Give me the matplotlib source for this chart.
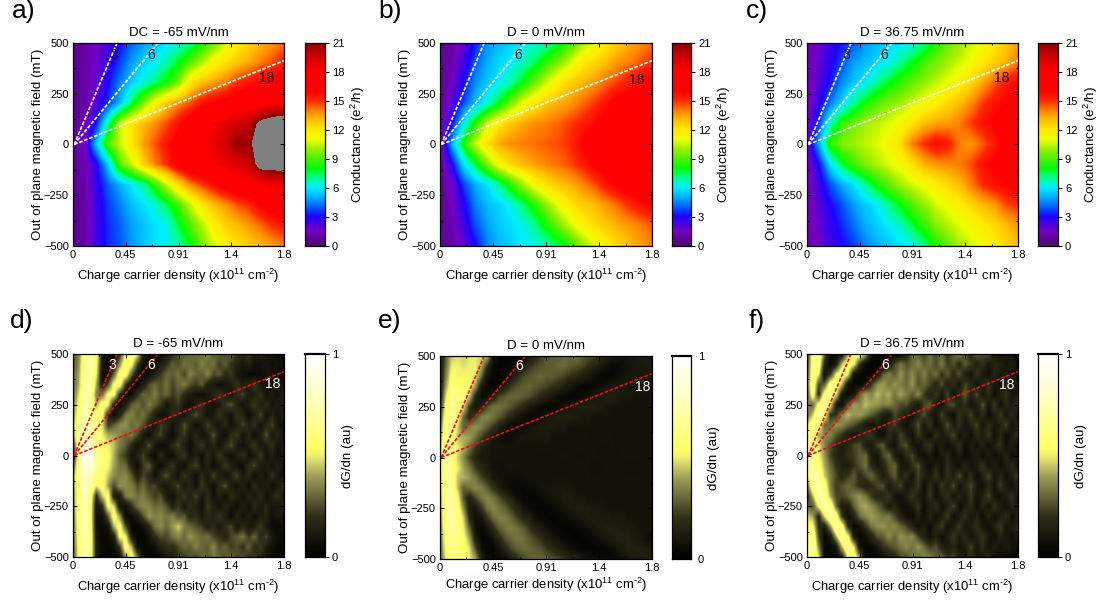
import numpy as np
import matplotlib
matplotlib.use("Agg")
import matplotlib.pyplot as plt
from matplotlib.colors import LinearSegmentedColormap

plt.rcParams["font.family"] = ["Liberation Sans", "DejaVu Sans"]
plt.rcParams["mathtext.fontset"] = "custom"
plt.rcParams["mathtext.rm"] = "Liberation Sans"
plt.rcParams["mathtext.default"] = "regular"

W, H = 1102, 603

density = [0.1 * i for i in range(19)]
field = [500, 400, 300, 200, 100, 0, -100, -200, -300, -400, -500]
fine_density = [0.05 * i for i in range(37)]
fine_field = [500 - 50 * i for i in range(21)]

# conductance maps, rows follow field, columns follow density
cond_a = [
    [.6, 1, 1.5, 2.2, 3, 4, 4.7, 5.3, 5.8, 6.2, 7, 8, 9.2, 10.5, 11.8, 12.4, 13, 13.6, 14.2],
    [.6, 1, 1.6, 2.6, 3.6, 4.8, 5.5, 6, 6.8, 7.8, 9, 10.2, 11.4, 12.2, 12.8, 13.3, 14, 14.6, 15.2],
    [.6, 1, 1.8, 3, 4.4, 5.5, 6.4, 7.2, 8.2, 9.5, 12, 13, 13.5, 14, 15, 15.5, 16, 16.5, 17],
    [.6, 1, 2, 3.6, 5.2, 7.5, 9.5, 11.5, 12.8, 13.8, 14.5, 15.5, 16, 16.5, 17, 17.2, 17.6, 18, 18],
    [.6, 1.2, 3.2, 7, 10.5, 12, 13, 13.8, 14.6, 15.6, 16.8, 18, 18.4, 18.8, 19.4, 19.8, 21.6, 22.4, 23],
    [.5, 1.6, 5.5, 9, 10.5, 12, 13.5, 14.5, 15.5, 16.5, 17.2, 17.8, 18.5, 19.5, 20.8, 20.5, 22.5, 23, 23],
    [.6, 1.2, 2.8, 5.5, 9, 10.5, 12.5, 14, 15, 16.5, 17.5, 18, 18.2, 18.6, 19, 19.6, 22, 22, 22.4],
    [.6, 1.1, 2.6, 4, 5, 6, 6.8, 8.5, 10.5, 12.3, 13.8, 14.8, 15.6, 16.6, 17.2, 17.6, 18, 18.4, 18.6],
    [.6, 1, 2.5, 3.6, 4.4, 5.2, 5.8, 6.4, 7.4, 8.8, 10.4, 12, 13, 13.6, 14.5, 15, 16, 16.6, 17],
    [.6, 1, 2.4, 3.4, 4, 4.8, 5.3, 5.8, 6.2, 7.6, 9, 10.2, 11.6, 12.6, 13, 13.6, 14.2, 15, 15.4],
    [.6, 1, 2.4, 3.4, 3.9, 4.7, 5.3, 5.8, 6.2, 6.7, 7.8, 9.4, 10.6, 11.6, 12.2, 12.6, 13, 13.5, 14],
]
cond_b = [
    [.6, 1, 1.8, 3.2, 4.6, 5.2, 5.6, 6, 6.3, 6.7, 7.5, 8.6, 9.8, 10.8, 11.8, 12.6, 13.2, 13.7, 14.2],
    [.6, 1.2, 2.4, 4, 5, 5.6, 6, 6.6, 7.4, 8.5, 9.5, 10.6, 11.8, 12.4, 13, 13.6, 14, 14.5, 15],
    [.6, 1.4, 3, 4.6, 5.4, 6, 6.8, 8, 9.3, 10.6, 11.8, 12.6, 13.1, 13.6, 14.2, 14.8, 15.4, 16, 16.5],
    [.6, 2, 3.8, 5.2, 6.4, 7.8, 9.4, 11, 12, 12.8, 13.2, 13.6, 14.2, 14.8, 15.5, 16.4, 16.8, 17, 17.4],
    [.8, 3, 6, 8.4, 10.6, 12, 12.8, 13.4, 13.8, 14, 14.3, 14.8, 15.2, 15.8, 16.6, 17, 17.4, 17.6, 17.8],
    [.8, 5, 8.2, 10.5, 12.2, 13.3, 13.8, 14, 14.2, 14.4, 14.6, 15, 16, 16.8, 17.2, 17.6, 17.8, 18, 18],
    [.8, 2.8, 5.8, 7.6, 9.6, 11.4, 12.4, 13, 13.5, 13.9, 14.2, 14.6, 15.2, 16, 16.6, 17, 17.4, 17.6, 17.6],
    [.6, 1.6, 3.6, 5, 5.8, 7, 8.5, 10, 11.3, 12.2, 12.8, 13.2, 13.8, 14.5, 15.4, 16.2, 16.8, 17, 17],
    [.6, 1.4, 2.8, 4.4, 5.2, 5.6, 6.2, 7.2, 8.4, 9.8, 11, 12, 12.6, 13, 13.6, 14.2, 15, 15.6, 16],
    [.6, 1.2, 2.4, 3.8, 4.8, 5.4, 5.7, 6.2, 7, 8.2, 9.4, 10.5, 11.6, 12.2, 12.8, 13.2, 13.6, 14, 14.5],
    [.6, 1, 1.8, 3, 4.4, 5.2, 5.6, 5.9, 6.2, 6.6, 7.4, 8.4, 9.6, 10.6, 11.6, 12.4, 13, 13.5, 14],
]
cond_c = [
    [1, 1.6, 2.4, 3.2, 3.8, 4.8, 5.2, 5.5, 5.8, 6.2, 7, 8.2, 9.2, 9.8, 10.5, 11.2, 11.9, 12.8, 13.5],
    [1, 1.8, 2.8, 3.8, 4.8, 5.2, 5.6, 6.2, 7, 7.8, 8.8, 9.4, 10, 10.6, 11.2, 12, 12.6, 13.2, 14],
    [1, 2, 3.2, 4.6, 5.4, 6, 7, 7.8, 8.6, 9.2, 9.8, 10.4, 11, 11.6, 12.4, 13.4, 14.4, 15.4, 16],
    [1, 2.6, 4.4, 5.6, 7, 8.2, 9, 9.6, 10, 10.6, 11.2, 11.8, 12.4, 13, 13.8, 14.8, 15.6, 16, 16.6],
    [1.2, 3.6, 6.6, 8.6, 9.4, 10, 10.4, 10.8, 11.4, 12.2, 13, 13.4, 13.6, 14, 14.8, 15.6, 16, 16.4, 16.6],
    [1.5, 5, 8.6, 9.6, 10, 10.4, 10.8, 11.4, 12.4, 14, 15, 15.8, 15.4, 14, 13.6, 14.4, 15.4, 16.4, 17],
    [1.2, 3, 5.8, 7.6, 8.8, 9.6, 10.2, 10.8, 11.4, 12.2, 13.2, 13.6, 13.8, 14, 14.6, 15.6, 16.2, 16.6, 16.6],
    [1, 2.4, 3.8, 5, 5.8, 7, 8.2, 9.2, 10, 10.6, 11.2, 11.8, 12.4, 13, 14, 15, 15.6, 16, 16.4],
    [1, 2, 3, 3.8, 4.8, 5.4, 6, 7, 8, 9, 9.8, 10.6, 11.2, 11.8, 12.4, 13, 13.6, 14.6, 15],
    [1, 1.8, 2.6, 3.4, 4.2, 5, 5.5, 6, 6.6, 7.6, 8.6, 9.6, 10.2, 10.8, 11.4, 11.8, 12.4, 13, 13.6],
    [1, 1.6, 2.4, 3, 3.6, 4.4, 5, 5.4, 5.8, 6.2, 7, 8.2, 9.2, 10, 10.6, 11.2, 11.8, 12.4, 13],
]

# dG/dn maps in percent of full scale, finer grid
deriv_d = [
    [25, 35,62,70,60, 12,4,4,20, 55,62,50,15, 4,3,5,10, 18,25,28,30, 32,30,35,28, 30,25,30,20, 18,22,12,15, 8,10,6,5],
    [25, 38,65,72,55, 10,4,8,38, 60,55,25,6, 3,4,12,20, 28,25,32,30, 28,35,30,32, 22,28,20,15, 10,14,8,6, 10,6,8,5],
    [28, 40,68,72,50, 8,5,30,58, 58,30,8,3, 6,15,22,30, 28,32,25,35, 30,28,35,25, 28,18,22,10, 6,4,3,5, 8,10,6,4],
    [28, 42,70,70,42, 10,25,55,58, 22,6,4,12, 25,30,26,32, 24,30,34,26, 22,28,16,12, 6,10,14,20, 12,16,22,10, 6,12,14,8],
    [30, 48,72,68,35, 32,55,55,18, 5,6,20,30, 28,34,26,30, 22,26,18,12, 8,5,10,16, 22,14,8,18, 24,10,14,20, 8,12,6,14],
    [32, 55,75,66,42, 58,52,14,5, 12,28,32,26, 34,28,22,10, 16,22,10,6, 14,20,12,8, 12,22,26,14, 8,14,22,12, 18,8,14,10],
    [35, 60,75,68,60, 55,18,6,16, 32,35,28,32, 24,14,6,10, 20,12,8,18, 26,16,6,12, 22,14,8,20, 16,6,14,24, 10,16,8,14],
    [38, 65,75,70,62, 48,22,28,36, 38,30,34,26, 16,10,22,18, 8,14,26,16, 6,12,24,14, 10,18,8,14, 24,14,20,8, 16,24,10,6],
    [35, 68,80,72,64, 50,42,40,36, 30,34,24,12, 6,18,24,10, 4,16,22,10, 18,8,14,26, 12,6,18,22, 10,16,6,14, 26,10,16,8],
    [20, 65,85,78,62, 55,50,44,34, 28,18,8,14, 26,12,4,8, 18,24,12,6, 14,22,10,16, 8,18,26,12, 6,14,22,10, 14,20,8,12],
    [8, 60,98,92,70, 58,55,42,28, 22,8,14,24, 10,4,18,8, 5,16,22,8, 14,6,18,10, 22,12,6,14, 20,8,12,22, 8,14,6,10],
    [22, 68,90,85,68, 58,52,40,32, 30,16,6,22, 28,12,5,14, 22,10,6,18, 24,10,16,6, 12,22,14,8, 6,18,24,10, 14,8,16,6],
    [38, 65,80,75,60, 54,46,36,34, 36,28,14,24, 18,6,20,26, 14,8,22,14, 6,18,10,24, 14,8,16,24, 10,18,6,14, 8,20,10,6],
    [35, 62,78,72,50, 58,40,24,38, 36,34,26,30, 22,24,14,8, 18,24,10,16, 8,22,14,6, 18,26,12,8, 16,6,18,10, 14,6,12,18],
    [35, 60,76,62,18, 45,58,12,12, 34,36,32,34, 28,22,26,12, 8,16,22,14, 24,10,18,8, 14,6,20,14, 8,16,10,18, 6,14,20,8],
    [32, 62,75,58,10, 18,55,48,8, 6,20,32,36, 35,30,32,26, 14,22,10,18, 14,6,22,14, 8,16,10,6, 14,8,18,12, 16,8,10,14],
    [30, 62,76,58,8, 6,28,60,38, 5,4,12,26, 38,34,36,32, 35,26,28,16, 20,10,18,14, 22,12,6,16, 8,14,6,12, 16,6,12,8],
    [28, 60,76,60,8, 4,8,42,58, 25,4,3,6, 18,32,36,30, 38,46,34,30, 26,22,14,18, 10,20,24,10, 18,10,14,22, 10,6,4,8],
    [28, 58,75,62,10, 4,5,12,54, 52,12,3,3, 8,18,26,24, 32,36,30,38, 34,30,32,24, 20,14,24,28, 32,22,30,18, 24,10,6,4],
    [25, 55,72,62,12, 4,4,6,22, 60,42,6,3, 4,6,14,20, 18,24,30,28, 34,30,28,36, 26,30,22,26, 20,28,18,22, 12,8,5,4],
    [25, 55,72,62,12, 4,3,4,8, 38,58,32,6, 3,3,5,10, 14,20,22,26, 24,30,28,32, 30,26,30,24, 26,20,22,16, 8,5,4,3],
]
deriv_e = [
    [8, 28,45,48,46, 48,50,46,42, 10,3,2,2, 2,3,8,16, 22,26,28,28, 30,30,32,28, 26,24,20,16, 12,10,8,10, 10,12,12,10],
    [8, 30,50,50,48, 50,50,42,20, 5,2,2,3, 6,14,20,24, 26,28,28,30, 30,28,26,24, 20,16,12,8, 5,4,6,8, 10,10,12,10],
    [8, 34,56,52,52, 52,50,30,8, 3,2,4,10, 18,24,26,28, 30,28,28,26, 24,20,18,14, 10,6,4,3, 4,6,8,10, 10,10,10,10],
    [8, 40,60,58,56, 54,38,12,4, 3,6,14,22, 26,28,30,28, 26,24,20,18, 14,10,6,4, 3,4,6,8, 10,12,12,10, 10,10,8,8],
    [10, 48,64,62,58, 44,16,5,5, 14,24,28,30, 30,28,26,22, 18,14,10,6, 4,3,3,5, 8,10,12,14, 14,12,10,10, 8,8,8,8],
    [14, 56,66,62,48, 22,8,14,26, 32,32,30,26, 22,18,12,8, 5,3,3,5, 8,10,12,14, 14,14,12,10, 8,8,8,8, 8,8,8,8],
    [20, 62,66,56,30, 16,24,34,36, 32,28,22,16, 10,6,4,4, 6,10,12,14, 14,14,12,10, 10,8,8,8, 8,8,8,8, 8,8,8,8],
    [28, 66,64,46,28, 34,38,34,28, 22,14,8,5, 4,5,8,10, 12,12,12,10, 10,8,8,8, 8,8,8,8, 8,8,8,8, 8,8,8,8],
    [36, 68,60,44,42, 40,32,24,16, 10,6,5,6, 8,10,10,10, 10,10,8,8, 8,8,8,8, 8,7,8,8, 8,7,8,8, 8,8,8,8],
    [40, 72,60,50,42, 32,22,14,10, 8,8,8,8, 8,8,8,8, 8,8,8,7, 7,8,8,8, 8,8,7,7, 8,8,8,7, 8,8,8,8],
    [42, 72,62,46,36, 24,16,12,10, 8,8,8,8, 8,8,8,8, 7,7,8,8, 8,8,7,7, 8,8,8,8, 7,7,8,8, 8,8,8,8],
    [42, 74,62,50,40, 32,22,16,12, 8,7,7,8, 8,8,8,8, 8,8,8,7, 7,8,8,8, 8,7,7,8, 8,8,8,7, 7,8,8,8],
    [40, 72,62,44,42, 38,32,24,18, 12,8,6,6, 6,7,8,8, 8,8,8,8, 8,8,8,7, 8,8,8,8, 8,8,8,8, 8,8,8,8],
    [40, 70,64,44,28, 32,36,34,28, 20,14,8,5, 4,4,5,6, 8,9,10,10, 10,9,8,8, 8,8,8,8, 8,8,8,8, 8,8,8,8],
    [38, 70,68,54,26, 14,24,32,36, 32,26,20,14, 8,4,3,3, 5,7,9,10, 12,12,10,10, 8,8,8,8, 8,8,8,8, 8,8,8,8],
    [36, 68,70,60,36, 12,10,20,32, 36,32,28,22, 16,10,6,4, 3,3,4,6, 9,11,12,12, 12,10,10,8, 8,8,8,8, 8,8,8,8],
    [34, 66,70,62,46, 18,6,8,20, 30,34,34,30, 24,18,14,8, 5,3,2,3, 4,6,8,10, 12,12,12,12, 10,10,10,8, 8,8,8,8],
    [32, 62,68,62,50, 30,8,4,8, 18,28,32,34, 32,28,22,16, 12,8,5,3, 2,2,3,5, 7,10,12,14, 14,14,12,12, 10,8,8,8],
    [30, 58,66,60,54, 40,14,4,4, 8,16,26,30, 32,32,28,24, 20,14,10,7, 5,3,2,2, 3,5,8,10, 12,14,14,14, 12,10,6,5],
    [28, 54,64,60,56, 48,26,7,3, 4,8,16,24, 28,30,30,28, 26,22,18,14, 10,7,5,3, 2,2,2,4, 6,8,12,14, 14,14,12,8],
    [26, 50,60,58,56, 50,40,16,4, 3,3,6,12, 18,24,28,30, 30,28,26,24, 20,16,14,10, 8,6,5,4, 4,5,7,10, 12,12,14,12],
]
deriv_f = [
    [15, 62,70,30,4, 4,8,40,58, 58,42,8,3, 2,2,3,6, 15,30,28,22, 32,26,30,20, 28,34,24,18, 30,24,28,12, 6,10,8,5],
    [18, 62,64,16,4, 12,45,60,52, 20,4,2,2, 3,10,24,32, 26,30,36,28, 32,24,34,22, 26,18,28,22, 14,20,10,16, 14,8,12,6],
    [22, 64,50,6,20, 50,62,50,10, 3,2,3,10, 28,34,28,38, 30,36,28,34, 26,32,20,28, 18,26,14,8, 22,12,6,16, 10,14,6,8],
    [28, 68,25,28,60, 64,42,8,3, 3,8,22,36, 40,32,38,34, 30,38,26,30, 24,16,26,14, 20,10,24,18, 8,14,22,10, 6,16,10,14],
    [24, 60,18,58,68, 48,10,4,12, 30,40,36,44, 38,42,32,40, 34,28,36,22, 14,22,10,24, 6,18,28,14, 26,10,18,6, 14,20,8,12],
    [35, 30,55,72,50, 12,6,28,40, 36,44,40,38, 34,36,30,24, 26,18,10,24, 28,12,8,22, 26,14,20,8, 14,26,10,22, 8,16,12,20],
    [30, 45,72,60,20, 20,36,44,38, 40,34,28,22, 14,10,24,20, 12,6,18,26, 14,8,24,12, 6,20,14,24, 10,18,6,14, 22,10,18,8],
    [45, 65,62,30,30, 38,36,30,26, 18,10,8,14, 8,18,24,12, 6,16,26,10, 22,6,14,26, 12,20,8,16, 24,8,18,10, 14,24,8,14],
    [60, 62,42,36,36, 26,20,12,8, 14,18,22,10, 6,20,12,24, 14,8,22,12, 6,20,10,16, 24,8,14,6, 18,12,22,8, 16,6,12,20],
    [65, 62,48,36,26, 18,12,16,24, 26,14,10,24, 28,12,8,22, 26,10,6,16, 22,8,14,6, 12,20,6,12, 8,16,6,14, 20,8,14,6],
    [68, 66,52,38,24, 16,14,20,22, 28,30,14,8, 24,30,14,8, 18,24,10,6, 12,4,10,16, 6,12,4,8, 14,5,12,6, 10,16,6,10],
    [68, 68,58,42,30, 20,14,12,20, 26,32,18,10, 14,26,30,12, 8,20,26,12, 6,14,8,18, 12,6,16,8, 12,22,8,14, 6,12,18,8],
    [50, 72,68,46,34, 24,16,22,28, 18,24,30,22, 12,22,28,14, 20,8,24,14, 10,22,8,20, 12,26,10,18, 6,14,24,10, 16,8,14,22],
    [28, 66,72,60,34, 22,26,30,26, 20,14,18,24, 26,10,18,24, 8,14,22,6, 18,8,22,12, 26,8,16,24, 12,6,18,8, 22,12,6,16],
    [15, 42,72,68,40, 24,24,28,34, 38,32,22,14, 18,22,10,6, 14,22,12,8, 22,6,14,20, 8,16,10,22, 8,14,24,10, 6,14,20,8],
    [30, 26,52,74,66, 30,12,14,28, 38,42,36,30, 22,12,16,8, 5,12,20,6, 12,20,8,14, 24,6,12,18, 6,16,8,20, 12,6,16,10],
    [48, 40,15,48,72, 62,20,6,14, 30,36,40,36, 32,34,24,14, 8,5,12,6, 16,8,14,22, 6,12,20,10, 14,6,18,8, 12,20,6,14],
    [55, 55,18,12,38, 72,60,18,5, 8,20,32,36, 38,34,36,30, 24,14,6,12, 4,14,22,8, 12,22,8,14, 20,10,6,14, 22,8,12,18],
    [55, 68,25,4,10, 42,70,55,12, 3,6,14,26, 28,36,30,38, 34,36,24,14, 8,16,6,14, 22,12,18,8, 14,22,10,6, 16,10,6,12],
    [55, 72,35,5,4, 10,45,68,50, 8,3,4,10, 20,24,28,32, 36,32,38,30, 22,26,14,10, 16,8,14,24, 10,18,8,14, 6,12,8,5],
    [50, 72,48,8,3, 4,14,52,62, 36,4,3,3, 6,12,16,24, 26,32,30,36, 34,28,30,20, 24,16,10,18, 8,12,16,6, 8,5,4,3],
]

x_ticks = [0, 0.45, 0.9, 1.35, 1.8]
x_tick_labels = ["0", "0.45", "0.91", "1.4", "1.8"]
y_ticks = [-500, -250, 0, 250, 500]
cond_ticks = [0, 3, 6, 9, 12, 15, 18, 21]
deriv_ticks = [0, 1]

# filling factor lines, end points
line_ends_n = [0.375, 0.725, 1.8]
line_ends_b = [500, 500, 413]

jet_like = LinearSegmentedColormap.from_list("cond", [
    (0 / 21, "#4a0a6a"), (1.5 / 21, "#7400c4"), (3 / 21, "#1c00ff"), (4 / 21, "#0060ff"),
    (5 / 21, "#00b0ff"), (6 / 21, "#00f0ff"), (7 / 21, "#00ff90"), (8 / 21, "#00ff00"),
    (9 / 21, "#50f000"), (10 / 21, "#a0f000"), (11 / 21, "#eeff00"), (12 / 21, "#ffea00"),
    (13 / 21, "#ffc000"), (14 / 21, "#ff8000"), (15 / 21, "#ff2800"), (16 / 21, "#ff0000"),
    (18 / 21, "#ff0000"), (19.5 / 21, "#d00000"), (1, "#8b0000")], N=512)
jet_like.set_over("#808080")
olive = LinearSegmentedColormap.from_list("deriv", [
    (0, "#000000"), (0.2, "#2f2f18"), (0.4, "#a0a058"), (0.5, "#f0f070"), (0.54, "#ffff66"),
    (0.7, "#ffffa0"), (0.85, "#ffffd8"), (1, "#ffffff")], N=512)


def px_axes(left, right, top, bottom):
    return fig.add_axes([left / W, 1 - bottom / H, (right - left) / W, (bottom - top) / H])


def draw_panel(values, xs, ys, box, cbar_x, letter, title, cmap, vmax, cticks, clabel, line_color,
               labels, letter_pos, x_pad=5, c_len=3):
    left, right, top, bottom = box
    ax = px_axes(left, right, top, bottom)
    dn = xs[1] - xs[0]
    db = ys[0] - ys[1]
    ax.imshow(values, cmap=cmap, vmin=0, vmax=vmax, aspect="auto", interpolation="bilinear",
              extent=[xs[0] - dn / 2, xs[-1] + dn / 2, ys[-1] - db / 2, ys[0] + db / 2])
    ax.set_xlim(0, 1.8)
    ax.set_ylim(-500, 500)
    for n_end, b_end in zip(line_ends_n, line_ends_b):
        ax.plot([0.01, n_end], [0, b_end], color=line_color, lw=1.2, ls=(0, (2.2, 1)))
    for label, x, y, c in labels:
        ax.text(x, y, label, color=c, fontsize=10, ha="center", va="center")
    ax.set_xticks(x_ticks)
    ax.set_xticklabels(x_tick_labels)
    ax.set_yticks(y_ticks)
    ax.set_xticks([0.225, 0.675, 1.125, 1.575], minor=True)
    ax.set_yticks([-375, -125, 125, 375], minor=True)
    ax.tick_params(which="major", direction="in", top=True, right=True, length=3, width=0.7, labelsize=8, pad=3)
    ax.tick_params(which="minor", direction="in", top=True, right=True, length=1.5, width=0.6)
    for s in ax.spines.values():
        s.set_linewidth(0.9)
    ax.set_xlabel("Charge carrier density (x10$^{11}$ cm$^{\\text{-2}}$)", fontsize=9.4, labelpad=x_pad)
    ax.set_ylabel("Out of plane magnetic field (mT)", fontsize=9.6, labelpad=0)
    ax.set_title(title, fontsize=9.6, pad=5)
    fig.text(letter_pos[0] / W, 1 - letter_pos[1] / H, letter, fontsize=19, ha="left", va="center")

    cax = px_axes(cbar_x[0], cbar_x[1], top, bottom)
    scale = np.linspace(vmax, 0, 256).reshape(-1, 1)
    cax.imshow(scale, cmap=cmap, vmin=0, vmax=vmax, aspect="auto", extent=[0, 1, 0, vmax])
    cax.set_xticks([])
    cax.yaxis.tick_right()
    cax.set_yticks(cticks)
    cax.tick_params(direction="out", length=c_len, width=0.7, labelsize=8, pad=2 if c_len else 5)
    for s in cax.spines.values():
        s.set_linewidth(0.9)
    if vmax == 1:
        cax.spines["top"].set_linewidth(1.6)
    cax.yaxis.set_label_position("right")
    cax.set_ylabel(clabel, fontsize=9.6, labelpad=3)


fig = plt.figure(figsize=(W / 100, H / 100), dpi=100)

cond_label = "Conductance (e$^{2}$/h)"
dark = "#151530"
draw_panel(cond_a, density, field, (73, 284, 43, 246), (305, 325), "a)", "DC = -65 mV/nm", jet_like, 21,
           cond_ticks, cond_label, "white",
           [("3", 0.35, 439, dark), ("6", 0.67, 439, dark), ("18", 1.65, 330, "#200000")], (12, 11))
draw_panel(cond_b, density, field, (440, 652, 43, 246), (672, 691), "b)", "D = 0 mV/nm", jet_like, 21,
           cond_ticks, cond_label, "white",
           [("6", 0.66, 443, dark), ("18", 1.67, 320, "#200000")], (378, 11))
draw_panel(cond_c, density, field, (807, 1018, 43, 246), (1038, 1058), "c)", "D = 36.75 mV/nm", jet_like, 21,
           cond_ticks, cond_label, "white",
           [("3", 0.335, 439, dark), ("6", 0.66, 439, dark), ("18", 1.66, 330, "#200000")], (746, 11))

deriv_label = "dG/dn (au)"
red = "#e8101a"
draw_panel(np.array(deriv_d) / 100, fine_density, fine_field, (73, 284, 354, 557), (305, 325), "d)",
           "D = -65 mV/nm", olive, 1, deriv_ticks, deriv_label, red,
           [("3", 0.335, 444, "white"), ("6", 0.67, 444, "white"), ("18", 1.70, 351, "white")], (10, 321))
draw_panel(np.array(deriv_e) / 100, fine_density, fine_field, (440, 652, 356, 559), (672, 691), "e)",
           "D = 0 mV/nm", olive, 1, deriv_ticks, deriv_label, red,
           [("6", 0.67, 450, "white"), ("18", 1.725, 345, "white")], (378, 321), x_pad=2, c_len=0)
draw_panel(np.array(deriv_f) / 100, fine_density, fine_field, (807, 1018, 354, 557), (1038, 1058), "f)",
           "D = 36.75 mV/nm", olive, 1, deriv_ticks, deriv_label, red,
           [("6", 0.67, 444, "white"), ("18", 1.70, 348, "white")], (749, 321))

fig.savefig("out.png", dpi=100)
